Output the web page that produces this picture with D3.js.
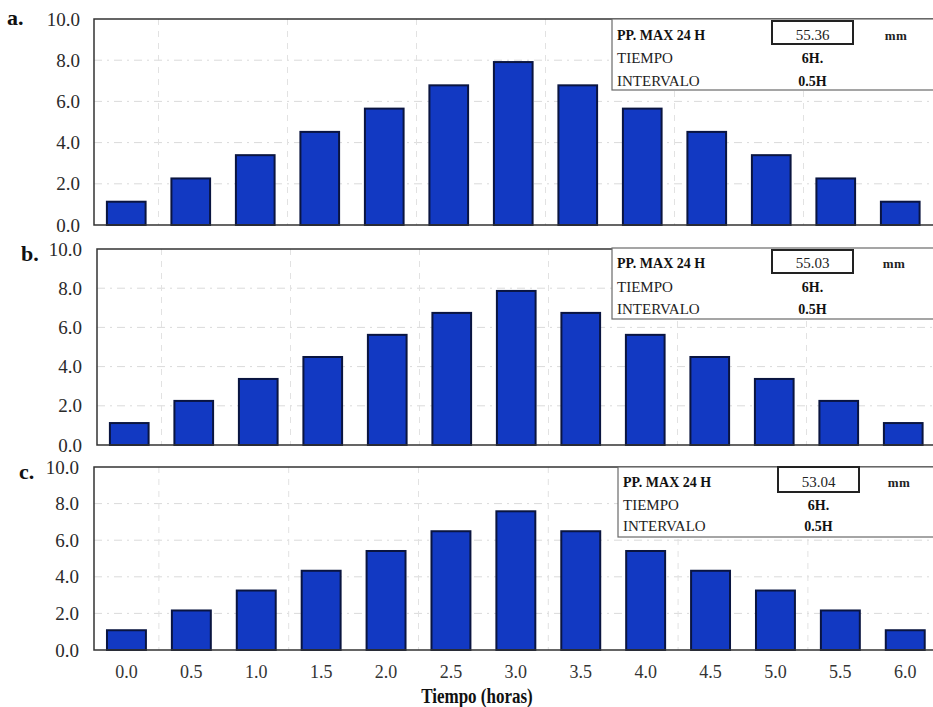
<!DOCTYPE html>
<html>
<head>
<meta charset="utf-8">
<script src="https://cdn.jsdelivr.net/npm/d3@7"></script>
<style>
  html, body { margin: 0; padding: 0; background: #fff; }
  svg { display: block; }
  text { font-family: "Liberation Serif", "DejaVu Serif", serif; }
</style>
</head>
<body>
<svg id="chart" width="933" height="707"></svg>
<script>
// Hyetograph data: rainfall per 0.5 h interval for three storm scenarios
const categories = ["0.0","0.5","1.0","1.5","2.0","2.5","3.0","3.5","4.0","4.5","5.0","5.5","6.0"];
const valuesA = [1.13, 2.26, 3.39, 4.52, 5.65, 6.78, 7.91, 6.78, 5.65, 4.52, 3.39, 2.26, 1.13];
const valuesB = [1.12, 2.25, 3.37, 4.49, 5.62, 6.74, 7.86, 6.74, 5.62, 4.49, 3.37, 2.25, 1.12];
const valuesC = [1.08, 2.16, 3.25, 4.33, 5.41, 6.49, 7.58, 6.49, 5.41, 4.33, 3.25, 2.16, 1.08];
const panelLabels = ["a.", "b.", "c."];
const ppMax = ["55.36", "55.03", "53.04"];
const yTicks = [0, 2, 4, 6, 8, 10];
const infoRows = ["PP. MAX 24 H", "TIEMPO", "INTERVALO"];
const infoValues = ["6H.", "0.5H"];
const unitLabel = "mm";
const xTitle = "Tiempo (horas)";

const series = [valuesA, valuesB, valuesC];

// Panel geometry
const panels = [
  { left: 94, top: 19, bottom: 225, step: 64.5, lab: [7, 25], tickX: 80,
    box: { x: 612, y: 19, h: 71 }, vbox: { x: 772, y: 21, w: 81, h: 23 }, rows: [40, 63, 86], mmX: 896 },
  { left: 97, top: 249, bottom: 445, step: 64.5, lab: [21, 261], tickX: 82,
    box: { x: 612, y: 248, h: 71 }, vbox: { x: 772, y: 250, w: 81, h: 23 }, rows: [268, 292, 314], mmX: 894 },
  { left: 94, top: 467, bottom: 650, step: 64.9, lab: [19, 479], tickX: 79,
    box: { x: 618, y: 467, h: 70 }, vbox: { x: 778, y: 467, w: 81, h: 25 }, rows: [487, 510, 531], mmX: 899 }
];

const svg = d3.select("#chart");

panels.forEach((p, i) => {
  const g = svg.append("g");
  const right = p.left + p.step * categories.length;

  const x = d3.scaleBand()
    .domain(categories)
    .range([p.left, right])
    .paddingInner(0.4)
    .paddingOuter(0.2);

  const y = d3.scaleLinear().domain([0, 10]).range([p.bottom, p.top]);

  // faint dashed grid
  g.selectAll("line.hgrid")
    .data(yTicks.filter(t => t > 0 && t < 10))
    .join("line")
    .attr("x1", p.left).attr("x2", 933)
    .attr("y1", d => y(d)).attr("y2", d => y(d))
    .attr("stroke", "#dadada").attr("stroke-width", 1)
    .attr("stroke-dasharray", "8,5,2,5");

  const vIdx = [1, 3, 5, 7, 9, 11];
  g.selectAll("line.vgrid")
    .data(vIdx)
    .join("line")
    .attr("x1", d => x(categories[d]) - x.step() * 0.2)
    .attr("x2", d => x(categories[d]) - x.step() * 0.2)
    .attr("y1", p.top).attr("y2", p.bottom)
    .attr("stroke", "#e2e2e2").attr("stroke-width", 1)
    .attr("stroke-dasharray", "6,6");

  // bars
  g.selectAll("rect.bar")
    .data(series[i])
    .join("rect")
    .attr("x", (d, k) => x(categories[k]))
    .attr("width", x.bandwidth())
    .attr("y", d => y(d))
    .attr("height", d => y(0) - y(d))
    .attr("fill", "#1239c2")
    .attr("stroke", "#0a1540")
    .attr("stroke-width", 2);

  // frame: left, top, bottom
  g.append("path")
    .attr("d", `M933,${p.top}H${p.left}V${p.bottom}H933`)
    .attr("fill", "none")
    .attr("stroke", "#333")
    .attr("stroke-width", 1.5);

  // y axis labels
  const yAxis = d3.axisLeft(y).tickValues(yTicks).tickFormat(d3.format(".1f")).tickSize(0).tickPadding(0);
  const ya = g.append("g").attr("transform", `translate(${p.tickX},0)`).call(yAxis);
  ya.select(".domain").remove();
  ya.selectAll("text")
    .attr("font-size", 19)
    .attr("fill", "#2a2a2a");

  // panel letter
  g.append("text")
    .attr("x", p.lab[0]).attr("y", p.lab[1])
    .attr("font-size", 22).attr("font-weight", "bold")
    .attr("fill", "#111")
    .text(panelLabels[i]);

  // info box
  g.append("rect")
    .attr("x", p.box.x).attr("y", p.box.y)
    .attr("width", 933 - p.box.x + 2).attr("height", p.box.h)
    .attr("fill", "#fff")
    .attr("stroke", "#6a6a6a").attr("stroke-width", 1.2);
  g.append("rect")
    .attr("x", p.vbox.x).attr("y", p.vbox.y)
    .attr("width", p.vbox.w).attr("height", p.vbox.h)
    .attr("fill", "#fff")
    .attr("stroke", "#222").attr("stroke-width", 2);

  const tx = p.box.x + 5;
  const cx = p.vbox.x + p.vbox.w / 2;
  g.append("text").attr("x", tx).attr("y", p.rows[0])
    .attr("font-size", 14).attr("font-weight", "bold").attr("fill", "#111")
    .text(infoRows[0]);
  g.append("text").attr("x", tx).attr("y", p.rows[1])
    .attr("font-size", 15).attr("fill", "#222")
    .text(infoRows[1]);
  g.append("text").attr("x", tx).attr("y", p.rows[2])
    .attr("font-size", 15).attr("fill", "#222")
    .text(infoRows[2]);
  g.append("text").attr("x", cx).attr("y", p.rows[0])
    .attr("text-anchor", "middle")
    .attr("font-size", 15).attr("fill", "#222")
    .text(ppMax[i]);
  g.append("text").attr("x", cx).attr("y", p.rows[1])
    .attr("text-anchor", "middle")
    .attr("font-size", 14).attr("font-weight", "bold").attr("fill", "#111")
    .text(infoValues[0]);
  g.append("text").attr("x", cx).attr("y", p.rows[2])
    .attr("text-anchor", "middle")
    .attr("font-size", 14).attr("font-weight", "bold").attr("fill", "#111")
    .text(infoValues[1]);
  g.append("text").attr("x", p.mmX).attr("y", p.rows[0])
    .attr("text-anchor", "middle")
    .attr("font-size", 13).attr("font-weight", "bold").attr("fill", "#222")
    .attr("letter-spacing", 0.5)
    .text(unitLabel);

  // x axis on the bottom panel only
  if (i === panels.length - 1) {
    const xAxis = d3.axisBottom(x).tickSize(0).tickPadding(0);
    const xa = g.append("g").attr("transform", `translate(0,${p.bottom + 15})`).call(xAxis);
    xa.select(".domain").remove();
    xa.selectAll("text")
      .attr("font-size", 18)
      .attr("fill", "#333");
    // condensed bold title
    g.append("text")
      .attr("transform", "translate(477,703) scale(0.85,1)")
      .attr("text-anchor", "middle")
      .attr("font-size", 20).attr("font-weight", "bold")
      .attr("fill", "#111")
      .text(xTitle);
  }
});
</script>
</body>
</html>
